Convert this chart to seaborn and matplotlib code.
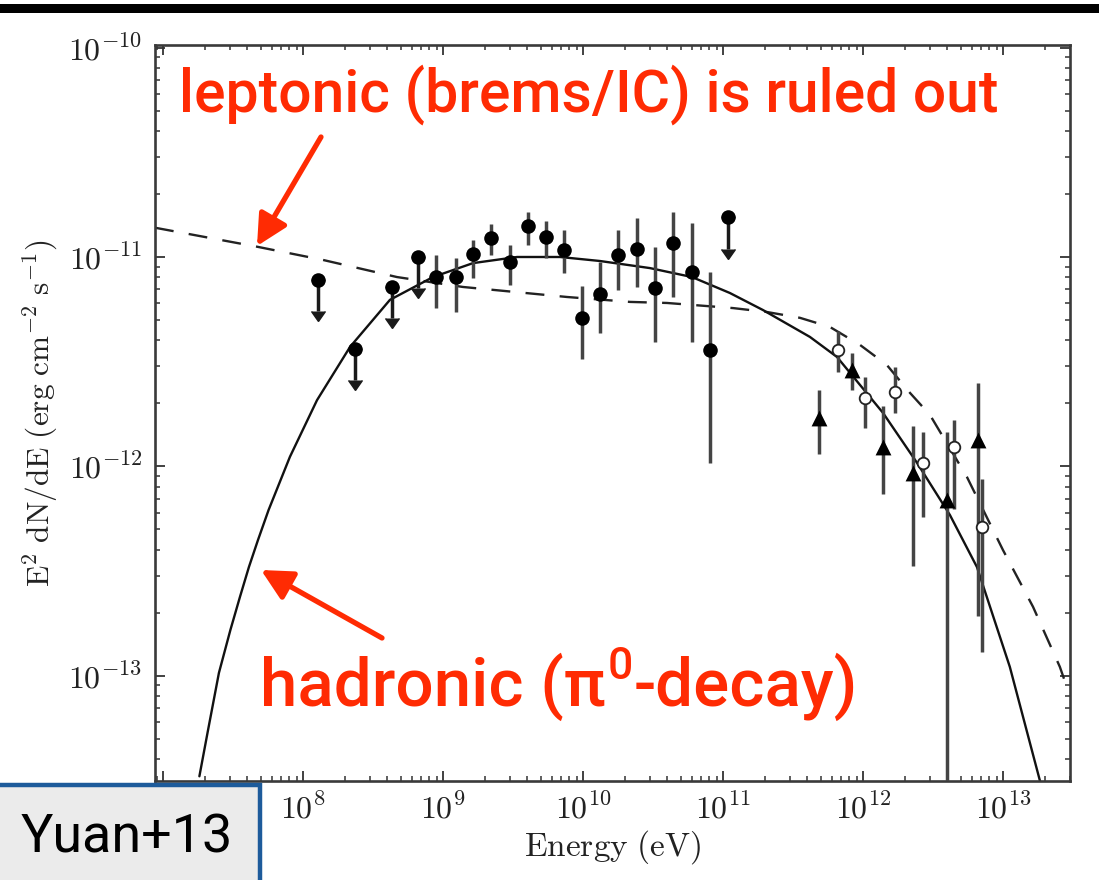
import numpy as np
import pandas as pd
import matplotlib
matplotlib.use("Agg")
import matplotlib.pyplot as plt
import seaborn as sns
from matplotlib.patches import Rectangle
from matplotlib.lines import Line2D
from matplotlib.ticker import FuncFormatter, LogLocator, NullFormatter

# ---------------- data ----------------
# Fermi-LAT flux points (filled circles)
fermi_E = [8.9e8, 1.24e9, 1.64e9, 2.2e9, 3.01e9, 4.05e9, 5.44e9, 7.32e9,
           9.84e9, 1.32e10, 1.78e10, 2.43e10, 3.27e10, 4.39e10, 6.01e10, 8.07e10]
fermi_F = [8.03e-12, 8.03e-12, 1.03e-11, 1.23e-11, 9.47e-12, 1.41e-11, 1.25e-11, 1.08e-11,
           5.12e-12, 6.67e-12, 1.02e-11, 1.09e-11, 7.11e-12, 1.17e-11, 8.48e-12, 3.6e-12]
fermi_lo = [5.71e-12, 5.47e-12, 7.94e-12, 1.02e-11, 7.35e-12, 1.14e-11, 9.9e-12, 8.39e-12,
            3.27e-12, 4.35e-12, 6.96e-12, 7.19e-12, 3.94e-12, 6.44e-12, 3.94e-12, 1.04e-12]
fermi_hi = [1.02e-11, 9.9e-12, 1.2e-11, 1.44e-11, 1.14e-11, 1.64e-11, 1.49e-11, 1.34e-11,
            7.27e-12, 9.47e-12, 1.34e-11, 1.53e-11, 1.12e-11, 1.64e-11, 1.45e-11, 8.48e-12]

# Fermi-LAT upper limits
ul_E = [1.28e8, 2.35e8, 4.32e8, 6.63e8, 1.09e11]
ul_F = [7.77e-12, 3.64e-12, 7.19e-12, 1.0e-11, 1.55e-11]

# TeV points (filled triangles)
tri_E = [4.85e11, 8.35e11, 1.39e12, 2.28e12, 3.98e12, 6.63e12]
tri_F = [1.71e-12, 2.89e-12, 1.24e-12, 9.33e-13, 6.93e-13, 1.34e-12]
tri_lo = [1.14e-12, 2.32e-12, 7.33e-13, 3.33e-13, 1e-14, 1.92e-13]
tri_hi = [2.32e-12, 3.48e-12, 1.95e-12, 1.55e-12, 1.45e-12, 2.5e-12]

# TeV points (open circles)
open_E = [6.63e11, 1.03e12, 1.69e12, 2.68e12, 4.47e12, 7.08e12]
open_F = [3.6e-12, 2.13e-12, 2.27e-12, 1.04e-12, 1.23e-12, 5.1e-13]
open_lo = [2.83e-12, 1.53e-12, 1.8e-12, 5.75e-13, 6.22e-13, 1.29e-13]
open_hi = [4.44e-12, 2.68e-12, 2.99e-12, 1.45e-12, 1.67e-12, 8.65e-13]

# hadronic (pi0-decay) model, solid
had_E = [1.82e7, 2.08e7, 2.51e7, 3.03e7, 3.55e7, 4.11e7, 4.77e7, 5.68e7, 8.07e7, 1.26e8,
         2.17e8, 4.18e8, 8.49e8, 1.64e9, 3.38e9, 6.85e9, 1.32e10, 3.01e10, 6.01e10,
         1.12e11, 1.93e11, 4.18e11, 6.52e11, 1.39e12, 2.43e12, 4.18e12, 6.52e12,
         1.12e13, 1.84e13]
had_F = [3.30e-14, 5.32e-14, 1.03e-13, 1.65e-13, 2.38e-13, 3.30e-13, 4.44e-13, 6.18e-13,
         1.11e-12, 2.07e-12, 3.72e-12, 6.24e-12, 8.02e-12, 9.35e-12, 1.00e-11, 1.00e-11,
         9.57e-12, 8.85e-12, 8.02e-12, 6.73e-12, 5.58e-12, 4.15e-12, 3.33e-12, 1.80e-12,
         1.04e-12, 5.85e-13, 3.30e-13, 1.10e-13, 3.13e-14]

# leptonic (brems/IC) model, dashed
lep_E = [8.77e6, 4.69e7, 1.39e8, 4.69e8, 1.39e9, 7.69e9, 2.17e10, 3.98e10, 1.18e11,
         2.06e11, 3.55e11, 5.81e11, 9.53e11, 1.48e12, 2.17e12, 3.01e12, 5.53e12,
         1.00e13, 1.64e13, 2.55e13, 2.91e13]
lep_F = [1.38e-11, 1.12e-11, 9.68e-12, 8.02e-12, 7.19e-12, 6.44e-12, 6.10e-12, 6.03e-12, 5.70e-12,
         5.46e-12, 5.12e-12, 4.63e-12, 3.80e-12, 3.05e-12, 2.24e-12, 1.76e-12, 8.89e-13,
         3.98e-13, 2.13e-13, 1.10e-13, 8.53e-14]

x_label = r"$\mathrm{Energy\ (eV)}$"
y_label = r"$\mathrm{E^2\ dN/dE\ (erg\ cm^{-2}\ s^{-1})}$"
lep_text = "leptonic (brems/IC) is ruled out"
had_parts = ["hadronic (\u03c0", "0", "-decay)"]
tag_text = "Yuan+13"

# ---------------- style ----------------
sns.set_theme(style="ticks")
plt.rcParams["mathtext.fontset"] = "cm"
plt.rcParams["font.family"] = ["DejaVu Sans"]

W, H = 1099, 880
fig = plt.figure(figsize=(W / 100, H / 100), dpi=100)
fig.patch.set_facecolor("white")

ax_l, ax_r, ax_t, ax_b = 155, 1070, 45, 781
ax = fig.add_axes([ax_l / W, 1 - ax_b / H, (ax_r - ax_l) / W, (ax_b - ax_t) / H])
ax.set_facecolor("white")

RED = "#ff2b03"
ERRC = "#444444"

# model curves
sns.lineplot(x=lep_E, y=lep_F, sort=False, estimator=None, ax=ax,
             color="#222222", linewidth=1.7, linestyle="--")
ax.lines[-1].set_dashes((8, 6.5))
sns.lineplot(x=had_E, y=had_F, sort=False, estimator=None, ax=ax,
             color="#111111", linewidth=1.7)

# error bars
def bars(E, F, lo, hi):
    F = np.array(F); lo = np.array(lo); hi = np.array(hi)
    ax.errorbar(E, F, yerr=[F - lo, hi - F], fmt="none", ecolor=ERRC,
                elinewidth=2.5, capsize=0, zorder=3)

bars(fermi_E, fermi_F, fermi_lo, fermi_hi)
bars(tri_E, tri_F, tri_lo, tri_hi)
bars(open_E, open_F, open_lo, open_hi)

# upper limits (downward arrows)
ulF = np.array(ul_F)
ax.errorbar(ul_E, ulF, yerr=ulF * (1 - 10 ** -0.15), uplims=True, fmt="none",
            color="#1a1a1a", ecolor="#1a1a1a", elinewidth=2.5, capsize=5, zorder=3)

# markers
sns.scatterplot(x=fermi_E + ul_E, y=fermi_F + ul_F, marker="o", s=110,
                color="black", edgecolor="black", linewidth=0, ax=ax, zorder=5)
sns.scatterplot(x=tri_E, y=tri_F, marker="^", s=130, color="black",
                edgecolor="black", linewidth=0, ax=ax, zorder=5)
sns.scatterplot(x=open_E, y=open_F, marker="o", s=70, color="white",
                edgecolor="#222222", linewidth=1.3, ax=ax, zorder=5)

ax.set_xscale("log")
ax.set_yscale("log")
ax.set_xlim(10 ** 6.943, 10 ** 13.479)
ax.set_ylim(10 ** -13.504, 10 ** -9.987)

def fmt_x(v, _):
    e = int(round(np.log10(v)))
    return "" if e < 8 else r"$10^{%d}$" % e

fmt_y = FuncFormatter(lambda v, _: r"$10^{%d}$" % int(round(np.log10(v))))
ax.xaxis.set_major_locator(LogLocator(base=10, numticks=20))
ax.yaxis.set_major_locator(LogLocator(base=10, numticks=20))
ax.xaxis.set_minor_locator(LogLocator(base=10, subs=np.arange(2, 10), numticks=40))
ax.yaxis.set_minor_locator(LogLocator(base=10, subs=np.arange(2, 10), numticks=40))
ax.xaxis.set_major_formatter(FuncFormatter(fmt_x))
ax.yaxis.set_major_formatter(fmt_y)
ax.xaxis.set_minor_formatter(NullFormatter())
ax.yaxis.set_minor_formatter(NullFormatter())

ax.tick_params(which="both", direction="in", top=True, right=True, color="#333333")
ax.tick_params(which="major", length=7, width=1.3, labelsize=23, pad=9, labelcolor="#222222")
ax.tick_params(which="minor", length=3.5, width=1.1)
for s in ax.spines.values():
    s.set_linewidth(1.9)
    s.set_color("#3a3a3a")

ax.set_xlabel(x_label, fontsize=24, color="#222222", labelpad=2)
ax.set_ylabel(y_label, fontsize=22.5, color="#222222", labelpad=6)

# ---------------- overlays ----------------
fig.add_artist(Rectangle((0, 1 - 13 / H), 1, 9 / H, transform=fig.transFigure,
                         facecolor="black", edgecolor="none", zorder=10))

renderer = fig.canvas.get_renderer()

def width_px(t):
    return t.get_window_extent(renderer).width

def fit(t, target_px):
    t.set_fontsize(t.get_fontsize() * target_px / width_px(t))

FAM = ["Roboto", "DejaVu Sans"]
t1 = fig.text(179 / W, 1 - 112 / H, lep_text, color=RED, fontsize=40,
              family=FAM, fontweight="medium", ha="left", va="baseline", zorder=11)
fit(t1, 820)

# hadronic label in three pieces (raised "0")
x0, base = 260, 706
pieces = [fig.text(0, 0, p, color=RED, family=FAM, fontweight="medium",
                   ha="left", va="baseline", zorder=11) for p in had_parts]

def layout(fs):
    x = x0
    for i, t in enumerate(pieces):
        size = fs * (0.66 if i == 1 else 1.0)
        t.set_fontsize(size)
        rise = 0.40 * fs * 100 / 72 if i == 1 else 0
        t.set_position((x / W, 1 - (base - rise) / H))
        x += width_px(t) + (2 if i != 1 else 1)
    return x - x0

fs = 40
fs = fs * 600 / layout(fs)
layout(fs)

arrow_kw = dict(arrowstyle="-|>,head_length=0.55,head_width=0.28", color=RED,
                lw=3.8, mutation_scale=34, shrinkA=0, shrinkB=0)
ax.annotate("", xy=(257 / W, 1 - 246 / H), xytext=(321 / W, 1 - 137 / H),
            xycoords="figure fraction", textcoords="figure fraction",
            arrowprops=arrow_kw, zorder=11)
ax.annotate("", xy=(261 / W, 1 - 570 / H), xytext=(382 / W, 1 - 638 / H),
            xycoords="figure fraction", textcoords="figure fraction",
            arrowprops=arrow_kw, zorder=11)

# Yuan+13 tag box (cut by the bottom/left edges of the picture)
fig.add_artist(Rectangle((0, 0), 260 / W, (880 - 785) / H, transform=fig.transFigure,
                         facecolor="#ebebeb", edgecolor="none", zorder=12))
fig.add_artist(Line2D([0, 260 / W, 260 / W], [1 - 785 / H, 1 - 785 / H, 0],
                      transform=fig.transFigure, color="#1d5b9b", linewidth=3.2,
                      solid_joinstyle="miter", zorder=12.5))
t3 = fig.text(21 / W, 1 - 852 / H, tag_text, color="black", fontsize=40,
              family=FAM, ha="left", va="baseline", zorder=13)
fit(t3, 212)

fig.savefig("out.png", dpi=100, facecolor="white")
